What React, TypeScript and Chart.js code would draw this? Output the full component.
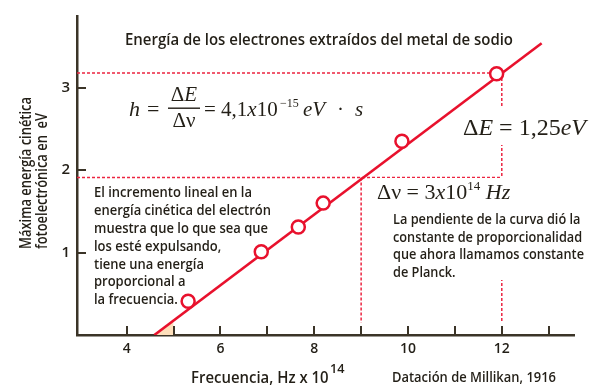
import React, { useEffect, useRef } from 'react';
import { Chart, registerables } from 'chart.js';
Chart.register(...registerables);

// Frecuencia (x 10^14 Hz) y energía (eV) de los puntos medidos
const frequency = [5.31, 6.87, 7.66, 8.19, 9.87, 11.89];
const energy = [0.41, 1.01, 1.31, 1.6, 2.35, 3.17];
// Recta ajustada
const fitFrequency = [4.59, 12.85];
const fitEnergy = [0, 3.54];
// Pequeño triángulo sombreado bajo la recta
const shadeFrequency = [4.59, 5.0];
const shadeEnergy = [0, 0.176];
// Guías punteadas
const guideAFreq = [2.94, 12, 12];
const guideAEnergy = [3.18, 3.18, 0.15];
const guideBFreq = [2.94, 12];
const guideBEnergy = [1.91, 1.91];
const guideCFreq = [9, 9];
const guideCEnergy = [1.91, 0.15];
// Ejes
const xTickValues = [4, 5, 6, 7, 8, 9, 10, 11, 12, 13];
const xTickLabels = [4, 6, 8, 10, 12];
const yTickValues = [1, 2, 3];
const yTickLabels = [1, 2, 3];
const xMin = 2.94;
const xMax = 13.54;
const yMin = 0;
const yMax = 3.87;

const leftText = [
  'El incremento lineal en la',
  'energía cinética del electrón',
  'muestra que lo que sea que',
  'los esté expulsando,',
  'tiene una energía',
  'proporcional a',
  'la frecuencia.',
];
const rightText = [
  'La pendiente de la curva dió la',
  'constante de proporcionalidad',
  'que ahora llamamos constante',
  'de Planck.',
];

const RED = '#e8112d';
const DASH_RED = '#ec2440';
const INK = '#231f17';
const AXIS = '#3b3428';
const SANS = '"Open Sans", "Noto Sans", sans-serif';
const W = '600';
const serif = (size: number, italic = false) =>
  `${italic ? 'italic ' : ''}${size}px "Liberation Serif", "DejaVu Serif", serif`;

const pts = (xs: number[], ys: number[]) => xs.map((x, i) => ({ x, y: ys[i] }));

function drawBlock(ctx: CanvasRenderingContext2D, lines: string[], x: number, y0: number, lh: number, font: string, widest: number) {
  ctx.save();
  ctx.font = font;
  const maxW = Math.max(...lines.map((l) => ctx.measureText(l).width));
  const sx = widest / maxW;
  ctx.fillStyle = INK;
  ctx.textAlign = 'left';
  ctx.textBaseline = 'alphabetic';
  lines.forEach((l, i) => {
    ctx.save();
    ctx.translate(x, y0 + i * lh);
    ctx.scale(sx, 1);
    ctx.fillText(l, 0, 0);
    ctx.restore();
  });
  ctx.restore();
}

function drawRun(ctx: CanvasRenderingContext2D, x: number, y: number, parts: [string, string, number?][]) {
  ctx.save();
  ctx.fillStyle = INK;
  ctx.textAlign = 'left';
  ctx.textBaseline = 'alphabetic';
  for (const [t, f, dy] of parts) {
    ctx.font = f;
    ctx.fillText(t, x, y + (dy || 0));
    x += ctx.measureText(t).width;
  }
  ctx.restore();
  return x;
}

function runWidth(ctx: CanvasRenderingContext2D, parts: [string, string, number?][]) {
  let w = 0;
  ctx.save();
  for (const [t, f] of parts) {
    ctx.font = f;
    w += ctx.measureText(t).width;
  }
  ctx.restore();
  return w;
}

const annotations = {
  id: 'annotations',
  afterDatasetsDraw(chart: any) {
    const ctx: CanvasRenderingContext2D = chart.ctx;
    const xs = chart.scales.x;
    const ys = chart.scales.y;
    const area = chart.chartArea;

    // white boxes behind right-hand labels
    ctx.save();
    ctx.fillStyle = '#ffffff';
    ctx.fillRect(462, 107, 133, 38);
    ctx.fillRect(372, 178, 224, 102);
    ctx.restore();

    // inner tick marks
    ctx.save();
    ctx.strokeStyle = AXIS;
    ctx.lineWidth = 2;
    ctx.beginPath();
    xTickValues.forEach((v) => {
      const px = Math.round(xs.getPixelForValue(v));
      ctx.moveTo(px, area.bottom);
      ctx.lineTo(px, area.bottom - 9);
    });
    yTickValues.forEach((v) => {
      const py = Math.round(ys.getPixelForValue(v));
      ctx.moveTo(area.left, py);
      ctx.lineTo(area.left + 9, py);
    });
    ctx.stroke();
    ctx.restore();

    // title and notes
    drawBlock(ctx, ['Energía de los electrones extraídos del metal de sodio'], 125, 45, 0, `${W} 16px ${SANS}`, 388);
    drawBlock(ctx, leftText, 94, 197.3, 17.8, `${W} 14.5px ${SANS}`, 177);
    drawBlock(ctx, rightText, 393, 224, 17.65, `${W} 14.5px ${SANS}`, 191);

    // formula h = ΔE/Δν = 4,1x10^-15 eV · s
    drawRun(ctx, 129, 116, [['h', serif(22, true)]]);
    drawRun(ctx, 147, 116, [['=', serif(22)]]);
    const num: [string, string, number?][] = [['Δ', serif(21)], ['E', serif(21, true)]];
    const nw = runWidth(ctx, num);
    drawRun(ctx, 184 - nw / 2, 101, num);
    const den: [string, string, number?][] = [['Δν', serif(21)]];
    const dw = runWidth(ctx, den);
    drawRun(ctx, 184 - dw / 2, 127, den);
    ctx.save();
    ctx.fillStyle = INK;
    ctx.fillRect(168, 107.5, 32, 1.4);
    ctx.restore();
    drawRun(ctx, 204, 116, [
      ['= 4,1', serif(21)],
      ['x', serif(21, true)],
      ['10', serif(21)],
    ]);
    drawRun(ctx, 280, 107, [['−15', serif(12)]]);
    drawRun(ctx, 303, 116, [['eV', serif(21, true)]]);
    drawRun(ctx, 337, 116, [['·', serif(21)]]);
    drawRun(ctx, 355, 116, [['s', serif(21, true)]]);

    // ΔE label
    drawRun(ctx, 463, 134.5, [
      ['Δ', serif(24)],
      ['E', serif(24, true)],
      [' = 1,25', serif(24)],
      ['eV', serif(24, true)],
    ]);
    // Δν label
    drawRun(ctx, 377, 198.5, [
      ['Δν = 3', serif(22)],
      ['x', serif(22, true)],
      ['10', serif(22)],
      ['14', serif(13), -9],
      [' Hz', serif(22, true)],
    ]);

    // y axis title (rotated, reads bottom to top)
    ctx.save();
    ctx.font = `${W} 16px ${SANS}`;
    const l1 = 'Máxima energía cinética';
    const l2 = 'fotoelectrónica en  eV';
    const s = 152 / ctx.measureText(l1).width;
    ctx.fillStyle = INK;
    ctx.textAlign = 'left';
    ctx.textBaseline = 'alphabetic';
    [l1, l2].forEach((l, i) => {
      ctx.save();
      ctx.translate(31 + i * 15.5, 249);
      ctx.rotate(-Math.PI / 2);
      ctx.scale(s, 1);
      ctx.fillText(l, 0, 0);
      ctx.restore();
    });
    ctx.restore();

    // x axis title and source
    drawBlock(ctx, ['Frecuencia, Hz x 10'], 191, 382.5, 0, `${W} 17px ${SANS}`, 137.6);
    drawBlock(ctx, ['14'], 330, 372.5, 0, `${W} 12px ${SANS}`, 14.5);
    drawBlock(ctx, ['Datación de Millikan, 1916'], 392, 382, 0, `${W} 14px ${SANS}`, 164);
  },
};

export default function App() {
  const ref = useRef<HTMLCanvasElement>(null);
  useEffect(() => {
    if (!ref.current) return;
    const guideStyle = {
      borderColor: DASH_RED,
      borderWidth: 1.5,
      borderDash: [3, 2],
      pointRadius: 0,
      showLine: true,
      fill: false,
    };
    const chart = new Chart(ref.current, {
      type: 'scatter',
      data: {
        datasets: [
          {
            data: pts(frequency, energy),
            pointRadius: 6.5,
            pointBorderWidth: 2.5,
            pointBackgroundColor: '#ffffff',
            pointBorderColor: RED,
            showLine: false,
            order: 0,
          } as any,
          {
            data: pts(fitFrequency, fitEnergy),
            borderColor: RED,
            borderWidth: 2.6,
            pointRadius: 0,
            showLine: true,
            order: 1,
          },
          { data: pts(guideAFreq, guideAEnergy), ...guideStyle, order: 2 },
          { data: pts(guideBFreq, guideBEnergy), ...guideStyle, order: 2 },
          { data: pts(guideCFreq, guideCEnergy), ...guideStyle, order: 2 },
          {
            data: pts(shadeFrequency, shadeEnergy),
            borderWidth: 0,
            borderColor: 'rgba(0,0,0,0)',
            backgroundColor: '#fddfbb',
            pointRadius: 0,
            showLine: true,
            fill: 'origin',
            order: 3,
          },
        ],
      },
      options: {
        animation: false,
        responsive: false,
        layout: { padding: { top: 10, right: 25, left: 0, bottom: 0 } },
        plugins: { legend: { display: false }, tooltip: { enabled: false } },
        scales: {
          x: {
            type: 'linear',
            min: xMin,
            max: xMax,
            afterFit: (s: any) => {
              s.height = 55;
            },
            grid: { display: false, drawTicks: false },
            border: { display: true, color: AXIS, width: 2.5 },
            ticks: {
              stepSize: 1,
              includeBounds: false,
              autoSkip: false,
              maxRotation: 0,
              padding: 6,
              color: INK,
              font: { family: SANS, size: 14, weight: W },
              callback: (v: any) => (xTickLabels.includes(Number(v)) ? String(v) : ''),
            },
          },
          y: {
            type: 'linear',
            min: yMin,
            max: yMax,
            afterFit: (s: any) => {
              s.width = 77;
            },
            grid: { display: false, drawTicks: false },
            border: { display: true, color: AXIS, width: 2.5 },
            ticks: {
              stepSize: 1,
              includeBounds: false,
              autoSkip: false,
              padding: 7,
              color: INK,
              font: { family: SANS, size: 15, weight: W },
              callback: (v: any) => (yTickLabels.includes(Number(v)) ? String(v) : ''),
            },
          },
        },
      } as any,
      plugins: [annotations],
    });
    return () => chart.destroy();
  }, []);
  return (
    <div style={{ position: 'fixed', left: 0, top: 0, width: 599, height: 390, background: '#fff' }}>
      <canvas ref={ref} width={599} height={390} style={{ display: 'block' }} />
    </div>
  );
}
